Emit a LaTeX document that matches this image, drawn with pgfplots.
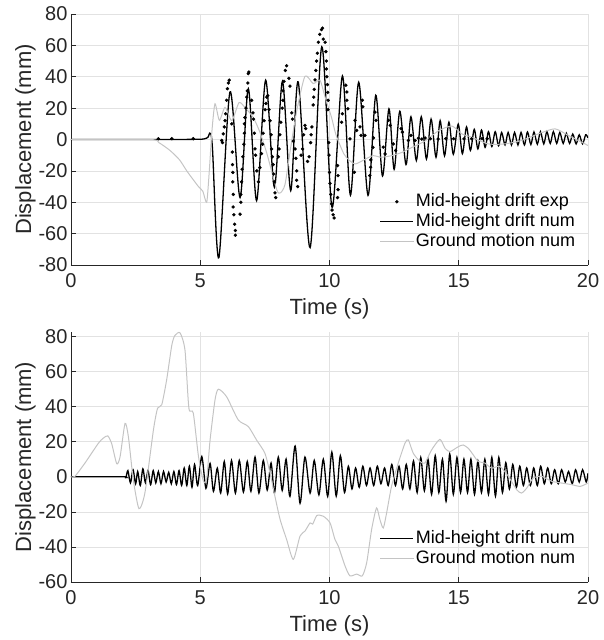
\documentclass[border=0pt]{standalone}
\usepackage{pgfplots}
\pgfplotsset{compat=1.18}
\usepackage{fontspec}
\setmainfont{Liberation Sans}
\definecolor{gridc}{RGB}{226,226,226}
\definecolor{axc}{RGB}{38,38,38}
\definecolor{ground}{RGB}{196,196,196}
\pgfplotsset{
  myaxis/.style={
    scale only axis, width=517pt, height=251pt,
    xmin=0, xmax=20, xtick={0,5,10,15,20},
    axis x line*=bottom, axis y line*=left,
    axis line style={axc, line width=0.6pt},
    tick align=inside, major tick length=5pt,
    tick style={axc, line width=0.6pt},
    grid=major, major grid style={gridc, line width=0.6pt},
    /pgf/number format/assume math mode=true,
    tick label style={font=\fontsize{20}{24}\selectfont, text=axc},
    xticklabel style={yshift=-5pt},
    label style={font=\fontsize{22}{26}\selectfont, text=axc},
    xlabel={Time (s)}, ylabel={Displacement (mm)},
    xlabel style={yshift=-4pt},
    ylabel style={yshift=-4pt},
    legend cell align=left,
    legend image code/.code={\draw[mark repeat=2,mark phase=2,##1] plot coordinates {(0pt,0pt) (16.5pt,0pt) (33pt,0pt)};},
    legend style={draw=none, fill=none, anchor=south east,
      font=\fontsize{18}{21}\selectfont, row sep=3pt,
      nodes={inner xsep=2pt, inner ysep=0pt, text height=13pt, text depth=4pt}},
  },
}
\begin{document}
\begin{tikzpicture}
\useasboundingbox (-71pt,-375pt) rectangle (533pt,265pt);
% ---------------- top axis ----------------
\begin{axis}[myaxis, at={(0pt,0pt)}, anchor=south west,
  ymin=-80, ymax=80, ytick={-80,-60,-40,-20,0,20,40,60,80},
  legend style={at={(0.985,0.05)}}]
\addplot[only marks, mark=*, mark size=1.5pt, black] coordinates {
(3.38,0.5) (3.9,0.5) (4.73,0.5)
(5.83,-0.6) (5.86,-2) (5.89,3.6) (5.93,8) (5.96,12) (5.98,16.4) (6.02,25) (6.05,32.4) (6.09,36) (6.12,37.8)
(6.22,10) (6.24,-8) (6.25,-16) (6.26,-21) (6.26,-27) (6.28,-35) (6.27,-43) (6.30,-48) (6.33,-54) (6.36,-58) (6.36,-61)
(6.54,-47.6) (6.57,-40) (6.57,-35) (6.60,-27) (6.62,-19) (6.65,-11) (6.69,-3) (6.71,4) (6.71,10) (6.73,14) (6.77,20) (6.80,27) (6.82,31) (6.84,36) (6.86,42) (6.88,43)
(6.99,25) (7.04,17) (7.06,13) (7.09,4) (7.12,-6) (7.14,-10) (7.19,-20) (7.25,-27)
(7.31,-18) (7.37,-9) (7.41,-3) (7.43,4) (7.47,12) (7.51,19) (7.54,23) (7.57,27) (7.61,28)
(7.66,19) (7.70,12) (7.74,3) (7.76,-6) (7.79,-11) (7.82,-16) (7.84,-22) (7.86,-27) (7.89,-34) (7.92,-37)
(8.02,-11) (8.05,-6) (8.08,3) (8.12,11) (8.17,20) (8.20,25) (8.20,31) (8.24,37) (8.29,44) (8.34,47)
(8.43,39) (8.47,34) (8.54,17) (8.57,13) (8.60,-1) (8.67,-6) (8.70,-12) (8.73,-20) (8.73,-26) (8.77,-30)
(8.90,-10) (8.96,-6) (9.00,3) (9.05,9) (9.08,7) (9.15,-14) (9.21,-11) (9.27,-2) (9.29,3) (9.32,8)
(9.37,22) (9.39,27) (9.41,32) (9.44,38) (9.47,44) (9.50,50) (9.53,55) (9.57,62) (9.62,67) (9.69,70) (9.73,71)
(9.76,64) (9.83,62) (9.86,56) (9.88,50) (9.88,45) (9.90,40) (9.92,35) (9.93,30) (9.95,25) (9.94,19) (9.97,-2) (9.98,-10) (10.00,-21) (10.02,-28) (10.05,-35) (10.08,-41) (10.10,-45) (10.14,-48) (10.18,-50)
(10.31,-37) (10.33,-32) (10.33,-23) (10.31,-16.6) (10.47,11) (10.50,16.4)
(10.63,34.6) (10.67,30.3) (10.67,25) (10.71,19.6) (10.79,0.4) (10.96,-20.9) (10.99,12.2) (11.05,5.8) (11.18,8) (11.22,2.6) (11.27,25) (11.29,20.8) (11.37,2.6)
(11.56,-23) (11.59,-17.7) (11.60,-13) (11.68,-5) (11.70,1) (11.76,17.5) (11.80,12.2) (12.08,-4.9) (12.15,-9.2) (12.28,12.2) (12.35,9) (12.47,-2.8) (12.56,-7) (12.77,6.9) (12.82,4.7)
(13.05,-0.6) (13.15,2.6) (13.31,-0.6) (13.44,0.8) (13.57,0.3) (13.70,1) (13.90,0.5) (14.20,0.3) (14.50,0.6) (14.80,0.5) (15.20,0.4) (15.50,0.5) (15.90,0.6) (16.10,0.5)
};
\addlegendentry{Mid-height drift exp}
\addplot[black, line width=1.3pt, smooth, tension=0.5] coordinates {
(0,0) (3,0) (4.8,0.1) (5.15,0.4) (5.3,1.5) (5.38,4) (5.47,-5)
(5.72,-75.3) (6.15,30.3) (6.54,-37) (6.86,32.4) (7.18,-39) (7.53,37.8) (7.87,-30.5) (8.18,37.1) (8.50,-32.6) (8.79,36.7)
(9.25,-68.9) (9.70,59.1) (10.10,-43.3) (10.50,40.5) (10.81,-35.5) (11.13,36.5) (11.49,-35.6) (11.79,28.2) (12.05,-23.3) (12.30,19.6)
(12.50,-19) (12.72,18) (12.96,-16) (13.15,14.5) (13.36,-13.4) (13.55,14.5) (13.75,-12.4) (13.93,13) (14.12,-11.3) (14.28,12) (14.45,-10.4) (14.62,11) (14.79,-9.4) (14.98,9.8)
(15.14,-9) (15.30,8) (15.45,-7) (15.60,6.5) (15.74,-6) (15.88,6) (16.02,-5) (16.15,5) (16.28,-4.5) (16.41,5) (16.54,-4) (16.66,4.5) (16.79,-3.5) (16.91,4.5)
(17.04,-3.5) (17.16,4.5) (17.29,-3.5) (17.41,4.5) (17.54,-3.5) (17.66,4.8) (17.79,-3.2) (17.91,4.8) (18.04,-3) (18.16,5) (18.29,-2.8) (18.41,5) (18.54,-2.5) (18.66,5) (18.79,-2.5) (18.91,4.5)
(19.04,-2.5) (19.16,4) (19.29,-2.5) (19.41,3.5) (19.54,-2.8) (19.66,3) (19.79,-2.8) (19.91,3) (20,1)
};
\addlegendentry{Mid-height drift num}
\addplot[ground, line width=1pt, smooth, tension=0.4] coordinates {
(0,0) (3.06,0) (3.4,-2) (3.83,-7) (4.2,-13) (4.47,-19.8) (4.7,-25) (4.93,-30) (5.1,-33) (5.25,-40) (5.35,-20) (5.45,5) (5.57,22.8)
(5.74,12.2) (5.96,20.5) (6.22,12) (6.5,23.5) (6.75,20) (7.05,14) (7.3,5) (7.57,-8.5) (7.96,-32) (8.1,-34) (8.28,-28.6) (8.5,-5) (8.73,18)
(9.05,40.3) (9.37,35.6) (9.63,37.8) (9.83,27) (10.08,14) (10.25,3) (10.55,-9) (10.75,-13) (11.0,-15.6) (11.4,-12.4) (11.69,-10.3) (12.0,-11.3)
(12.4,-10.3) (12.79,-8.3) (13.18,-5.1) (13.7,-0.9) (14.21,5.5) (14.73,8.6) (15.12,3.6) (15.5,1.5) (16.14,-2.8) (16.79,-2.8) (17.43,-0.6) (18.08,3.6) (18.72,6.8) (19.24,2.6) (20,-3.8)
};
\addlegendentry{Ground motion num}
\end{axis}
% ---------------- bottom axis ----------------
\begin{axis}[myaxis, at={(0pt,-317pt)}, anchor=south west, height=250pt,
  ymin=-60, ymax=82.5, ytick={-60,-40,-20,0,20,40,60,80},
  legend style={at={(0.985,0.05)}}]
\addplot[black, line width=1.3pt, smooth, tension=0.5] coordinates {
(0,0) (2.0,0) (2.12,-0.5) (2.2,3.5) (2.3,-3.5) (2.4,4) (2.5,-4) (2.58,3) (2.68,-5) (2.78,4.5) (2.88,-3.5) (2.98,3.5) (3.08,-4.5) (3.18,3.5) (3.28,-3.5)
(3.38,3) (3.48,-4) (3.58,3) (3.68,-3) (3.78,2.5) (3.88,-4) (3.98,3) (4.08,-4.5) (4.18,3.5) (4.28,-5) (4.38,5) (4.48,-5) (4.58,6) (4.68,-6) (4.78,7) (4.9,-5)
(5.06,11.5) (5.22,-6.6) (5.38,7.6) (5.51,-8.3) (5.66,4.9) (5.79,-9.3) (5.93,8.7) (6.06,-9.8) (6.21,9.3) (6.36,-9.3) (6.51,9.3) (6.67,-8.7) (6.82,8.7) (6.96,-8.3)
(7.12,11.2) (7.27,-9.3) (7.44,9.3) (7.59,-7.6) (7.74,7.8) (7.87,-9.3) (8.02,11.2) (8.17,-7.8) (8.32,10.0) (8.47,-11.2) (8.67,17.5) (8.86,-15.1) (9.05,11.2) (9.25,-9.3)
(9.41,9.3) (9.59,-10.3) (9.76,10) (9.93,-11.2) (10.09,14) (10.26,-11) (10.42,12) (10.58,-9) (10.73,6) (10.87,-7) (11.01,5) (11.15,-6) (11.29,6) (11.43,-5)
(11.57,5) (11.71,-5) (11.85,6) (11.99,-4) (12.13,5) (12.27,-5) (12.41,7) (12.55,-5) (12.69,6) (12.83,-7) (12.97,7) (13.11,-7) (13.25,9) (13.39,-9)
(13.53,11) (13.67,-8) (13.81,10) (13.95,-10) (14.09,12) (14.23,-9) (14.37,10) (14.51,-14) (14.65,13) (14.79,-10) (14.93,11) (15.07,-9) (15.2,10) (15.34,-9)
(15.47,10) (15.61,-10) (15.74,9) (15.88,-9) (16.01,10) (16.15,-10) (16.28,11) (16.42,-11) (16.55,11) (16.69,-9) (16.82,8) (16.96,-7) (17.09,7) (17.23,-6)
(17.36,6) (17.5,-5) (17.63,5) (17.77,-5) (17.9,5) (18.04,-5) (18.17,6) (18.31,-4) (18.44,5) (18.58,-4) (18.71,4) (18.85,-4) (18.98,4) (19.12,-3)
(19.25,3) (19.39,-4) (19.52,4) (19.66,-3) (19.79,4) (19.93,-3) (20,2)
};
\addlegendentry{Mid-height drift num}
\addplot[ground, line width=1pt, smooth, tension=0.4] coordinates {
(0,0) (0.15,0.2) (0.54,7.8) (1.06,19.1) (1.25,22) (1.42,23.3) (1.57,19.1) (1.77,7.4) (1.9,11.5) (2.09,30.4) (2.22,22.8) (2.41,-1.7) (2.63,-18.2) (2.86,-9.1)
(3.19,26.8) (3.35,39.1) (3.51,41) (3.7,55.2) (3.9,75) (4.02,80.5) (4.22,82) (4.41,72.1) (4.56,39.1) (4.73,36.3) (4.93,11.7) (5.12,-2.4) (5.25,-1)
(5.38,20.9) (5.57,43.7) (5.7,49.9) (6.02,45.6) (6.47,32.4) (6.86,28.6) (7.18,20.9) (7.5,13.4) (7.7,2.1) (7.89,-11.2) (8.09,-24.4) (8.34,-35.7) (8.6,-47.1)
(8.86,-33.8) (9.05,-31) (9.25,-26.3) (9.35,-27) (9.51,-22.1) (9.76,-22.5) (10.02,-26.3) (10.21,-35.7) (10.34,-39.5) (10.6,-50.8) (10.79,-56.5) (11.05,-55.5)
(11.27,-56.5) (11.44,-48.9) (11.63,-30) (11.82,-17.8) (11.95,-24.4) (12.08,-29.2) (12.21,-20.6) (12.4,-5.5) (12.66,7.8) (12.92,19.1) (13.05,21) (13.24,13.4)
(13.5,8.7) (13.69,7.8) (13.95,15.3) (14.27,21.3) (14.47,16.2) (14.66,14.3) (14.98,17.1) (15.17,18.1) (15.37,16.2) (15.56,12.5) (15.75,8.7) (16.01,7.8)
(16.27,4.9) (16.59,5.9) (16.92,0.2) (17.24,-7.4) (17.43,-9.3) (17.63,-6.5) (17.88,-0.8) (18.21,0.2) (18.59,-2.6) (18.98,-3.6) (19.37,-4.5) (19.7,-5.5) (20,-3.6)
};
\addlegendentry{Ground motion num}
\end{axis}
\end{tikzpicture}
\end{document}
